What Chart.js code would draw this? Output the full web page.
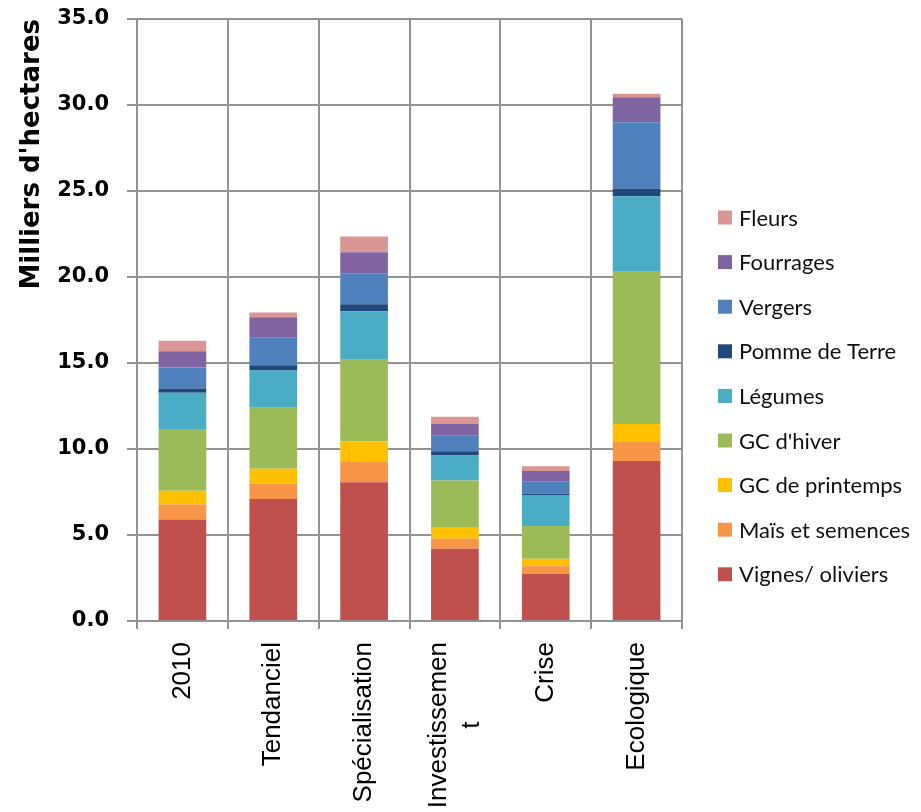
<!DOCTYPE html>
<html lang="fr">
<head>
<meta charset="utf-8">
<title>Surfaces par scénario</title>
<script src="https://cdn.jsdelivr.net/npm/chart.js@4/dist/chart.umd.min.js"></script>
<style>
  html, body { margin: 0; padding: 0; background: #ffffff; }
  #wrap { width: 921px; height: 812px; }
</style>
</head>
<body>
<div id="wrap"><canvas id="chart" width="921" height="812"></canvas></div>
<script>
// Scenarios (x categories)
const categories = ['2010', 'Tendanciel', 'Spécialisation', ['Investissemen', 't'], 'Crise', 'Ecologique'];

// Areas in thousands of hectares, one array per crop group
const vignesOliviers = [5.90, 7.10, 8.07, 4.20, 2.74, 9.30];
const maisSemences   = [0.87, 0.88, 1.22, 0.58, 0.45, 1.10];
const gcPrintemps    = [0.80, 0.87, 1.15, 0.64, 0.43, 1.05];
const gcHiver        = [3.60, 3.55, 4.75, 2.75, 1.91, 8.85];
const legumes        = [2.10, 2.16, 2.82, 1.45, 1.79, 4.40];
const pommeDeTerre   = [0.25, 0.31, 0.41, 0.25, 0.08, 0.45];
const vergers        = [1.22, 1.60, 1.77, 0.90, 0.73, 3.85];
const fourrages      = [0.95, 1.19, 1.25, 0.70, 0.59, 1.45];
const fleurs         = [0.60, 0.28, 0.91, 0.40, 0.28, 0.20];

// Series names, bottom of the stack first
const seriesNames = ['Vignes/ oliviers', 'Maïs et semences', 'GC de printemps', "GC d'hiver",
                     'Légumes', 'Pomme de Terre', 'Vergers', 'Fourrages', 'Fleurs'];
const seriesValues = [vignesOliviers, maisSemences, gcPrintemps, gcHiver,
                      legumes, pommeDeTerre, vergers, fourrages, fleurs];

// Y axis ticks
const yMin = 0, yMax = 35, yStep = 5;

const colors = ['#C0504D', '#F79646', '#FFC000', '#9BBB59', '#4BACC6',
                '#1F497D', '#4F81BD', '#8064A2', '#DA9694'];

const datasets = seriesNames.map((name, i) => ({
  label: name,
  data: seriesValues[i],
  backgroundColor: colors[i],
  borderWidth: 0,
  barPercentage: 0.525,
  categoryPercentage: 1.0
}));

// Vertical category labels under the x axis; wrapped lines are centred on each other
const categoryLabels = {
  id: 'categoryLabels',
  afterDraw(chart) {
    const ctx = chart.ctx;
    const xs = chart.scales.x;
    const top = xs.top + 21;
    const lineGap = 33;
    ctx.save();
    ctx.font = '26px "Liberation Sans"';
    ctx.fillStyle = '#000000';
    ctx.textAlign = 'right';
    ctx.textBaseline = 'middle';
    chart.data.labels.forEach((lab, i) => {
      const lines = Array.isArray(lab) ? lab : [lab];
      const widths = lines.map(l => ctx.measureText(l).width);
      const maxW = Math.max(...widths);
      const x = xs.getPixelForTick(i);
      lines.forEach((ln, j) => {
        const cx = x + (j - (lines.length - 1) / 2) * lineGap;
        ctx.save();
        ctx.translate(cx, top);
        ctx.rotate(-Math.PI / 2);
        ctx.fillText(ln, -(maxW - widths[j]) / 2, 0);
        ctx.restore();
      });
    });
    ctx.restore();
  }
};

// Legend drawn on the right, top entry = top of the stack
const sideLegend = {
  id: 'sideLegend',
  afterDraw(chart) {
    const ctx = chart.ctx;
    const items = chart.data.datasets.slice().reverse();
    ctx.save();
    ctx.font = '22px Lato';
    ctx.textAlign = 'left';
    ctx.textBaseline = 'alphabetic';
    items.forEach((ds, k) => {
      const cy = 217.5 + k * 44.6;
      ctx.fillStyle = ds.backgroundColor;
      ctx.fillRect(718, cy - 7, 14, 14);
      ctx.fillStyle = '#111111';
      ctx.fillText(ds.label, 739, cy + 8);
    });
    ctx.restore();
  }
};

const gridColor = '#939393';

new Chart(document.getElementById('chart'), {
  type: 'bar',
  data: { labels: categories, datasets },
  plugins: [categoryLabels, sideLegend],
  options: {
    responsive: false,
    animation: false,
    layout: { padding: { top: 19, right: 239, left: 0, bottom: 0 } },
    plugins: {
      legend: { display: false },
      tooltip: { enabled: false }
    },
    scales: {
      x: {
        stacked: true,
        afterFit(scale) {
          scale.height = 191;
          scale.paddingLeft = 0; scale.paddingRight = 0;
        },
        grid: { color: gridColor, lineWidth: 2, tickLength: 8, offset: true },
        border: { color: gridColor, width: 2 },
        ticks: { display: false, autoSkip: false }
      },
      y: {
        stacked: true,
        min: yMin, max: yMax,
        afterFit(scale) {
          scale.width = 137;
          scale.paddingTop = 0; scale.paddingBottom = 0;
        },
        grid: { color: gridColor, lineWidth: 2, tickLength: 10 },
        border: { color: gridColor, width: 2 },
        ticks: {
          stepSize: yStep, padding: 18, color: '#000000',
          font: { family: 'DejaVu Sans', size: 21, weight: 'bold' },
          callback: v => Number(v).toFixed(1)
        },
        title: {
          display: true, text: "Milliers d'hectares", align: 'end',
          color: '#000000', padding: { top: 17, bottom: 0 },
          font: { family: 'DejaVu Sans', size: 26, weight: 'bold' }
        }
      }
    }
  }
});
</script>
</body>
</html>
